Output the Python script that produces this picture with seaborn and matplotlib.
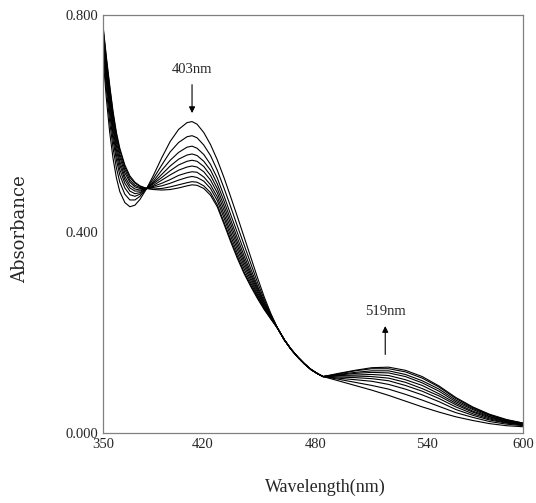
import matplotlib
matplotlib.use("Agg")
import matplotlib.pyplot as plt
import seaborn as sns
import pandas as pd

# wavelength grid (nm), split where the scans run together
wl_head = [350, 352, 354, 356, 358, 360, 363, 366, 369, 372, 376, 380, 385, 390, 395,
           400, 403, 406, 410, 414, 418, 422, 426, 430, 434, 438, 442, 446, 450, 454]
wl_mid = [458, 462, 466, 470, 474, 478, 481]
wl_tail = [490, 500, 510, 520, 530, 540, 550, 560, 570, 580, 590, 600]

# all scans share this stretch
mid_vals = [.178, .160, .145, .132, .121, .113, .108]

# absorbance (first scan = highest 403 nm band)
head_vals = [
    [.720, .640, .575, .525, .488, .462, .441, .433, .436, .447, .468, .493, .527, .558, .581,
     .594, .596, .591, .575, .552, .523, .489, .452, .414, .375, .336, .297, .260, .228, .200],
    [.733, .658, .595, .545, .507, .480, .457, .446, .446, .453, .468, .487, .513, .538, .556,
     .567, .569, .565, .551, .531, .503, .469, .433, .396, .360, .324, .288, .255, .226, .200],
    [.743, .671, .610, .560, .522, .494, .469, .456, .453, .457, .468, .482, .503, .522, .537,
     .547, .549, .545, .533, .514, .488, .454, .418, .383, .348, .314, .281, .251, .224, .200],
    [.751, .681, .621, .571, .532, .504, .478, .463, .458, .460, .468, .479, .495, .511, .524,
     .532, .534, .531, .520, .503, .477, .444, .408, .373, .339, .307, .277, .248, .223, .200],
    [.757, .689, .630, .580, .541, .513, .485, .469, .463, .463, .468, .477, .489, .502, .513,
     .520, .522, .520, .510, .493, .468, .435, .400, .365, .332, .302, .273, .245, .222, .200],
    [.762, .696, .638, .588, .549, .520, .491, .474, .467, .465, .468, .474, .484, .494, .503,
     .509, .511, .509, .500, .484, .460, .427, .392, .358, .326, .297, .269, .243, .221, .200],
    [.767, .703, .646, .596, .557, .528, .498, .480, .471, .468, .468, .472, .478, .485, .493,
     .498, .500, .499, .490, .475, .452, .419, .384, .351, .320, .292, .265, .241, .220, .200],
    [.772, .710, .653, .603, .564, .534, .504, .484, .474, .470, .468, .470, .473, .478, .484,
     .489, .491, .489, .482, .468, .445, .412, .377, .344, .314, .287, .262, .239, .219, .200],
    [.777, .716, .661, .611, .571, .541, .509, .489, .478, .472, .468, .467, .468, .471, .475,
     .479, .481, .480, .473, .460, .437, .404, .370, .338, .308, .283, .259, .237, .218, .200],
    [.780, .720, .665, .615, .575, .545, .513, .492, .480, .473, .468, .466, .465, .466, .469,
     .473, .475, .474, .468, .455, .433, .400, .366, .334, .305, .280, .257, .236, .218, .200],
]
tail_vals = [
    [.100, .091, .082, .072, .061, .050, .040, .031, .024, .018, .014, .012],
    [.103, .097, .091, .084, .074, .063, .051, .039, .030, .022, .017, .014],
    [.105, .102, .099, .093, .084, .073, .060, .045, .034, .025, .019, .015],
    [.107, .106, .104, .100, .091, .080, .066, .050, .037, .027, .020, .016],
    [.109, .109, .108, .105, .097, .085, .071, .054, .040, .029, .021, .016],
    [.110, .111, .112, .110, .102, .091, .075, .057, .042, .031, .022, .017],
    [.111, .114, .116, .115, .108, .096, .080, .060, .045, .032, .023, .018],
    [.112, .116, .119, .119, .112, .100, .084, .063, .047, .034, .024, .018],
    [.113, .119, .123, .123, .117, .105, .088, .066, .049, .035, .025, .019],
    [.114, .120, .125, .126, .120, .108, .090, .068, .050, .036, .026, .019],
]

wavelength = wl_head + wl_mid + wl_tail
rows = []
for i in range(len(head_vals)):
    vals = head_vals[i] + mid_vals + tail_vals[i]
    for w, a in zip(wavelength, vals):
        rows.append({"scan": i, "wavelength": w, "absorbance": a})
df = pd.DataFrame(rows)

sns.set_style("white")
serif = ["Liberation Serif", "DejaVu Serif"]

fig = plt.figure(figsize=(5.36, 5.03), dpi=100)
ax = fig.add_axes([103 / 536, 1 - 433 / 503, 420 / 536, 418 / 503])

sns.lineplot(data=df, x="wavelength", y="absorbance", units="scan", estimator=None,
             color="black", linewidth=0.8, legend=False, ax=ax)

ax.set_xlim(350, 600)
ax.set_ylim(0, 0.8)

# tick placement copied from the original instrument printout
ax.set_xticks([350, 409.5, 476.4, 542.7, 600])
ax.set_xticklabels(["350", "420", "480", "540", "600"], family=serif, fontsize=10.5)
ax.set_yticks([0, 0.385, 0.8])
ax.set_yticklabels(["0.000", "0.400", "0.800"], family=serif, fontsize=10.5)
ax.tick_params(axis="y", direction="out", length=2, width=0.8, color="#808080", pad=1.5)
ax.tick_params(axis="x", direction="in", length=2, width=0.8, color="#808080", pad=3.5)

for sp in ax.spines.values():
    sp.set_color("#808080")
    sp.set_linewidth(0.9)

ax.set_xlabel("Wavelength(nm)", family=serif, fontsize=13)
ax.set_ylabel("Absorbance", family=["DejaVu Serif"], fontsize=13)
ax.xaxis.set_label_coords(0.529, -0.129)
ax.yaxis.set_label_coords(-0.198, 0.488)
ax.xaxis.label.set_va("center")
ax.yaxis.label.set_va("center")

ax.annotate("", xy=(403, 0.607), xytext=(403, 0.672),
            arrowprops=dict(arrowstyle="-|>", color="black", lw=0.8, mutation_scale=9))
ax.text(403, 0.695, "403nm", ha="center", va="center", family=serif, fontsize=10.5)
ax.annotate("", xy=(518, 0.21), xytext=(518, 0.145),
            arrowprops=dict(arrowstyle="-|>", color="black", lw=0.8, mutation_scale=9))
ax.text(518, 0.233, "519nm", ha="center", va="center", family=serif, fontsize=10.5)

fig.savefig("out.png", dpi=100)
